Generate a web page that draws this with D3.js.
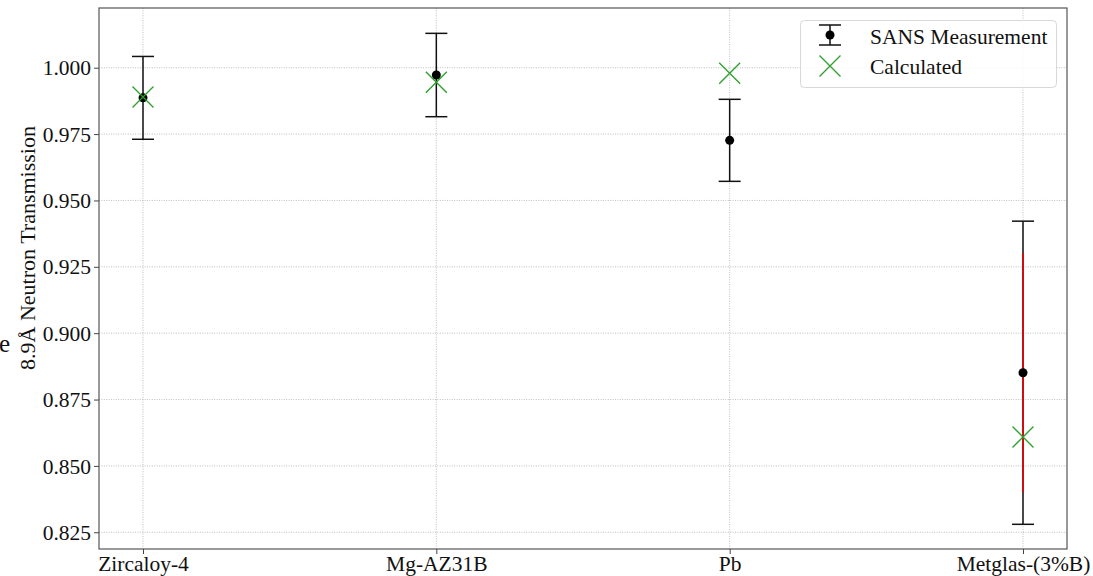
<!DOCTYPE html>
<html>
<head>
<meta charset="utf-8">
<script src="https://cdn.jsdelivr.net/npm/d3@7"></script>
<style>
  html, body { margin: 0; padding: 0; background: #fff; }
  svg { display: block; font-family: "Liberation Serif", "Times New Roman", serif; }
</style>
</head>
<body>
<svg id="chart" width="1093" height="576"></svg>
<script>
// Samples and transmission values
const categories = ["Zircaloy-4", "Mg-AZ31B", "Pb", "Metglas-(3%B)"];
const measured = [0.98865, 0.99725, 0.97265, 0.8851];
const measuredErr = [0.0156, 0.0157, 0.01545, 0.0571];
const innerErr = [null, null, null, 0.045];
const calculated = [0.9890, 0.9945, 0.9979, 0.8609];
const yTicks = [0.825, 0.850, 0.875, 0.900, 0.925, 0.950, 0.975, 1.000];

const svg = d3.select("#chart");
const plot = { left: 99, right: 1067, top: 8, bottom: 549 };
const fontSize = "21.5px";

const x = d3.scalePoint().domain(categories).range([plot.left, plot.right]).padding(0.15);
const y = d3.scaleLinear().domain([0.8187, 1.0225]).range([plot.bottom, plot.top]);

// grid lines
const grid = svg.append("g").attr("stroke", "#b8b8b8").attr("stroke-width", 0.9)
  .attr("stroke-dasharray", "1,1.4");
grid.selectAll("line.h").data(yTicks).join("line").attr("class", "h")
  .attr("x1", plot.left).attr("x2", plot.right)
  .attr("y1", d => y(d)).attr("y2", d => y(d));
grid.selectAll("line.v").data(categories).join("line").attr("class", "v")
  .attr("x1", d => x(d)).attr("x2", d => x(d))
  .attr("y1", plot.top).attr("y2", plot.bottom);

// axes
const yAxis = d3.axisLeft(y).tickValues(yTicks).tickFormat(d3.format(".3f")).tickSize(5).tickPadding(3);
const xAxis = d3.axisBottom(x).tickSize(5).tickPadding(2);
const gy = svg.append("g").attr("transform", `translate(${plot.left},0)`).call(yAxis);
const gx = svg.append("g").attr("transform", `translate(0,${plot.bottom})`).call(xAxis);
[gx, gy].forEach(g => {
  g.select(".domain").remove();
  g.selectAll(".tick line").attr("stroke", "#444").attr("stroke-width", 1);
  g.selectAll(".tick text").attr("fill", "#111").style("font-size", fontSize)
    .style("font-family", "Liberation Serif, serif");
});
gy.selectAll(".tick text").attr("dy", "0.33em");
gx.selectAll(".tick text").attr("dy", "0.68em");

// frame
svg.append("rect").attr("x", plot.left).attr("y", plot.top)
  .attr("width", plot.right - plot.left).attr("height", plot.bottom - plot.top)
  .attr("fill", "none").attr("stroke", "#555").attr("stroke-width", 1.2);

// y label
svg.append("text")
  .attr("transform", `translate(35,248) rotate(-90)`)
  .attr("text-anchor", "middle").attr("fill", "#111").style("font-size", "22px")
  .text("8.9Å Neutron Transmission");
svg.append("text")
  .attr("x", -1).attr("y", 352)
  .attr("fill", "#111").style("font-size", "25px")
  .text("e");

const cap = 11;
const idx = d3.range(categories.length);
const eb = svg.append("g").attr("stroke", "#111").attr("stroke-width", 1.5);
eb.selectAll("line.bar").data(idx).join("line").attr("class", "bar")
  .attr("x1", i => x(categories[i])).attr("x2", i => x(categories[i]))
  .attr("y1", i => y(measured[i] + measuredErr[i])).attr("y2", i => y(measured[i] - measuredErr[i]));
eb.selectAll("line.capT").data(idx).join("line").attr("class", "capT")
  .attr("x1", i => x(categories[i]) - cap).attr("x2", i => x(categories[i]) + cap)
  .attr("y1", i => y(measured[i] + measuredErr[i])).attr("y2", i => y(measured[i] + measuredErr[i]));
eb.selectAll("line.capB").data(idx).join("line").attr("class", "capB")
  .attr("x1", i => x(categories[i]) - cap).attr("x2", i => x(categories[i]) + cap)
  .attr("y1", i => y(measured[i] - measuredErr[i])).attr("y2", i => y(measured[i] - measuredErr[i]));

// inner uncertainty band
svg.append("g").selectAll("line").data(idx.filter(i => innerErr[i] != null)).join("line")
  .attr("stroke", "#ee0000").attr("stroke-width", 1.6)
  .attr("x1", i => x(categories[i])).attr("x2", i => x(categories[i]))
  .attr("y1", i => y(measured[i] + innerErr[i])).attr("y2", i => y(measured[i] - innerErr[i]));

// measured points
svg.append("g").selectAll("circle").data(idx).join("circle")
  .attr("cx", i => x(categories[i])).attr("cy", i => y(measured[i]))
  .attr("r", 4.5).attr("fill", "#000");

// calculated markers
const xs = 10.5;
const xMark = (g, cx, cy) => {
  g.append("path").attr("d", `M${cx - xs},${cy - xs}L${cx + xs},${cy + xs}M${cx - xs},${cy + xs}L${cx + xs},${cy - xs}`)
    .attr("stroke", "#2ca02c").attr("stroke-width", 1.3).attr("fill", "none");
};
const calcG = svg.append("g");
idx.forEach(i => xMark(calcG, x(categories[i]), y(calculated[i])));

// legend
const lg = svg.append("g");
lg.append("rect").attr("x", 800.5).attr("y", 20.5).attr("width", 256).attr("height", 67)
  .attr("rx", 4).attr("fill", "rgba(255,255,255,0.85)").attr("stroke", "#d8d8d8");
const lx = 830;
lg.append("line").attr("x1", lx).attr("x2", lx).attr("y1", 25).attr("y2", 45).attr("stroke", "#111").attr("stroke-width", 1.5);
lg.append("line").attr("x1", lx - cap).attr("x2", lx + cap).attr("y1", 25).attr("y2", 25).attr("stroke", "#111").attr("stroke-width", 1.5);
lg.append("line").attr("x1", lx - cap).attr("x2", lx + cap).attr("y1", 45).attr("y2", 45).attr("stroke", "#111").attr("stroke-width", 1.5);
lg.append("circle").attr("cx", lx).attr("cy", 35).attr("r", 4.5).attr("fill", "#000");
xMark(lg, lx, 66);
lg.append("text").attr("x", 870).attr("y", 44).attr("fill", "#111").style("font-size", fontSize).text("SANS Measurement");
lg.append("text").attr("x", 870).attr("y", 74).attr("fill", "#111").style("font-size", fontSize).text("Calculated");
</script>
</body>
</html>
